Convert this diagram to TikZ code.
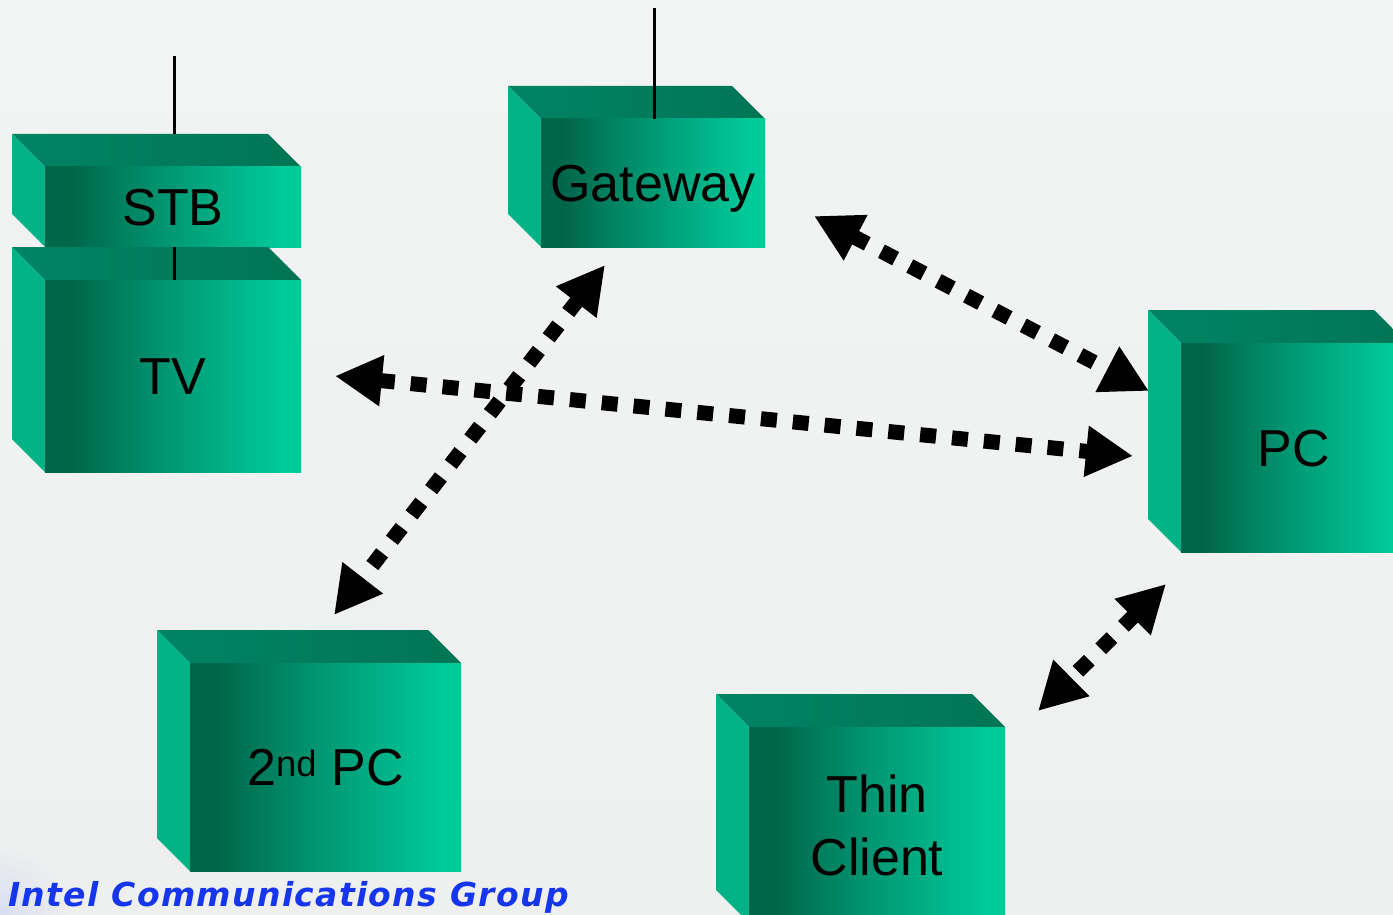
\documentclass[tikz,border=0pt]{standalone}
\usepackage{fontspec}
\setmainfont{Liberation Sans}
\newfontfamily\footfont[LetterSpace=4]{DejaVu Sans}
\usetikzlibrary{arrows.meta}
\definecolor{bgc}{HTML}{EEEFEF}
\definecolor{bgtop}{HTML}{F2F4F4}
\definecolor{bgblue}{HTML}{D2DBF2}
\definecolor{gD}{HTML}{00664A}
\definecolor{gM}{HTML}{009A74}
\definecolor{gL}{HTML}{00C99A}
\definecolor{tA}{HTML}{008464}
\definecolor{tB}{HTML}{007556}
\definecolor{sidec}{HTML}{00B387}
\definecolor{footblue}{HTML}{1535EE}
\pgfdeclarehorizontalshading{frontgrad}{100bp}{color(0bp)=(gD); color(30bp)=(gD); color(50bp)=(gM); color(71bp)=(gL); color(100bp)=(gL)}
\pgfdeclarehorizontalshading{topgrad}{100bp}{color(0bp)=(tA); color(25bp)=(tA); color(75bp)=(tB); color(100bp)=(tB)}
\tikzset{
  front/.style={shade, shading=frontgrad, inner sep=0pt, outer sep=0pt, align=center,
    font=\fontsize{52}{63}\selectfont},
  oneline/.style={text height=37pt, text depth=0pt},
  ant/.style={line width=3pt, black},
  dotarrow/.style={line width=15pt, dash pattern=on 16pt off 16pt, black,
    {Triangle[length=47pt,width=48pt]}-{Triangle[length=47pt,width=48pt]}}
}
% #1 name, #2 x, #3 y (back top-left), #4 front width, #5 front height, #6 options, #7 label
\newcommand\gbox[7]{%
  \shade[shading=topgrad] (#2,#3) -- ({#2+#4},#3) -- ({#2+#4+33},{#3+33}) -- ({#2+33},{#3+33}) -- cycle;
  \fill[sidec] (#2,#3) -- ({#2+33},{#3+33}) -- ({#2+33},{#3+33+#5}) -- (#2,{#3+#5}) -- cycle;
  \node[front, minimum width=#4pt, minimum height=#5pt, #6] (#1) at ({#2+33+#4/2},{#3+33+#5/2}) {#7};
}
\begin{document}
\begin{tikzpicture}[x=1pt, y=-1pt]
\useasboundingbox (0,0) rectangle (1393,915);
\clip (0,0) rectangle (1393,915);
\shade[top color=bgtop, bottom color=bgc] (0,0) rectangle (1393,915);
\shade[inner color=bgblue, outer color=bgc, opacity=0.8] (0,915) circle (70);

\gbox{stb}{12}{134}{256}{80}{oneline}{STB}
\gbox{tv}{12}{247}{256}{192}{oneline}{TV}
\gbox{gw}{508}{86}{224}{128}{oneline}{Gateway}
\gbox{pc}{1148}{310}{226}{209}{oneline}{PC}
\gbox{pc2}{157}{630}{271}{208}{oneline}{2\textsuperscript{nd} PC}
\gbox{tc}{716}{694}{256}{196}{}{Thin\\Client}

% antennas and cable
\coordinate (stb-ant) at (174,56);
\coordinate (stb-top) at (174,134);
\coordinate (gw-ant) at (654,8);
\draw[ant] (stb-ant) -- (stb-top);
\draw[ant] (stb.south) ++(1,0) coordinate (stb-s) -- (tv.north -| stb-s);
\draw[ant] (gw-ant) -- (gw.north -| gw-ant);

% connector end points
\coordinate (a1s) at (814,216);
\coordinate (a1e) at (1149,391);
\coordinate (a2s) at (335,376);
\coordinate (a2e) at (1133,456);
\coordinate (a3s) at (605,265);
\coordinate (a3e) at (334,615);
\coordinate (a4s) at (1166,584);
\coordinate (a4e) at (1038,711);
\draw[dotarrow] (a1s) -- (a1e);
\draw[dotarrow] (a2s) -- (a2e);
\draw[dotarrow] (a3s) -- (a3e);
\draw[dotarrow] (a4s) -- (a4e);

\node[anchor=base west, inner sep=0pt, text=footblue,
  font=\footfont\bfseries\itshape\fontsize{33}{40}\selectfont] (icg) at (8,906) {Intel Communications Group};
\end{tikzpicture}
\end{document}
